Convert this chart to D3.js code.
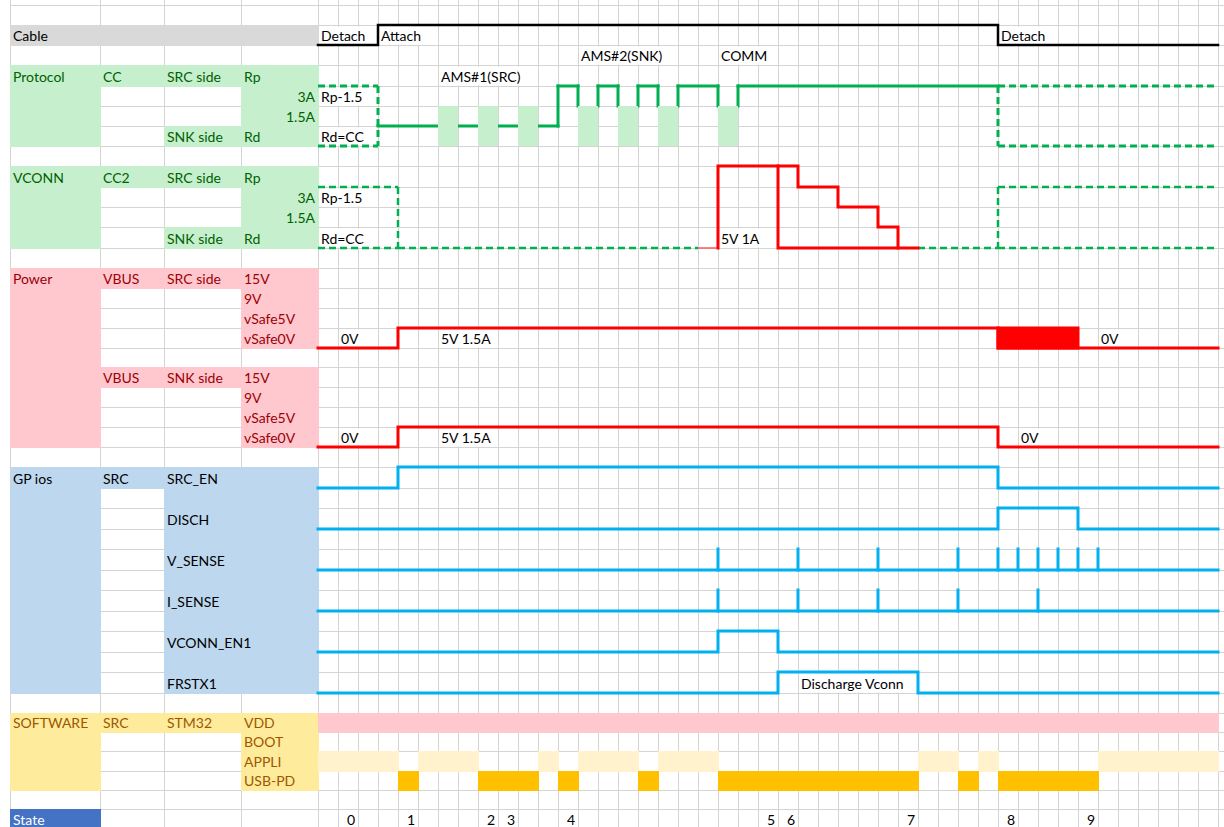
<!DOCTYPE html>
<html>
<head>
<meta charset="utf-8">
<script src="https://cdn.jsdelivr.net/npm/d3@7"></script>
<style>
  body { margin: 0; background: #fff; }
  svg text { font-family: Lato, "Open Sans", sans-serif; font-size: 14px; }
</style>
</head>
<body>
<svg width="1224" height="827"></svg>
<script>
// ---- data ----
// left hand label cells: [row, column, text, align]
var labelCells = [
  [1, 0, "Cable"],
  [3, 0, "Protocol"], [3, 1, "CC"], [3, 2, "SRC side"], [3, 3, "Rp"],
  [4, 3, "3A", "r"], [5, 3, "1.5A", "r"], [6, 2, "SNK side"], [6, 3, "Rd"],
  [8, 0, "VCONN"], [8, 1, "CC2"], [8, 2, "SRC side"], [8, 3, "Rp"],
  [9, 3, "3A", "r"], [10, 3, "1.5A", "r"], [11, 2, "SNK side"], [11, 3, "Rd"],
  [13, 0, "Power"], [13, 1, "VBUS"], [13, 2, "SRC side"], [13, 3, "15V"],
  [14, 3, "9V"], [15, 3, "vSafe5V"], [16, 3, "vSafe0V"],
  [18, 1, "VBUS"], [18, 2, "SNK side"], [18, 3, "15V"],
  [19, 3, "9V"], [20, 3, "vSafe5V"], [21, 3, "vSafe0V"],
  [23, 0, "GP ios"], [23, 1, "SRC"], [23, 2, "SRC_EN"], [25, 2, "DISCH"],
  [27, 2, "V_SENSE"], [29, 2, "I_SENSE"], [31, 2, "VCONN_EN1"], [33, 2, "FRSTX1"],
  [35, 0, "SOFTWARE"], [35, 1, "SRC"], [35, 2, "STM32"], [35, 3, "VDD"],
  [36, 3, "BOOT"], [37, 3, "APPLI"], [38, 3, "USB-PD"],
  [40, 0, "State"]
];

// coloured label blocks: [firstCol, lastCol, firstRow, lastRow, theme]
var labelBlocks = [
  [0, 3, 1, 1, "cable"],
  [0, 0, 3, 6, "green"], [1, 3, 3, 3, "green"], [3, 3, 4, 6, "green"], [2, 2, 6, 6, "green"],
  [0, 0, 8, 11, "green"], [1, 3, 8, 8, "green"], [3, 3, 9, 11, "green"], [2, 2, 11, 11, "green"],
  [0, 0, 13, 21, "red"], [1, 3, 13, 13, "red"], [3, 3, 14, 16, "red"],
  [1, 3, 18, 18, "red"], [3, 3, 19, 21, "red"],
  [0, 0, 23, 33, "blue"], [1, 1, 23, 23, "blue"], [2, 3, 23, 33, "blue"],
  [0, 0, 35, 38, "yellow"], [1, 3, 35, 35, "yellow"], [3, 3, 36, 38, "yellow"],
  [0, 0, 40, 40, "state"]
];

// notes written in the timeline cells: [row, column, text]
var timelineNotes = [
  [1, 0, "Detach"], [1, 3, "Attach"], [1, 34, "Detach"],
  [2, 13, "AMS#2(SNK)"], [2, 20, "COMM"], [3, 6, "AMS#1(SRC)"],
  [4, 0, "Rp-1.5"], [6, 0, "Rd=CC"], [9, 0, "Rp-1.5"], [11, 0, "Rd=CC"], [11, 20, "5V 1A"],
  [16, 1, "0V"], [16, 6, "5V 1.5A"], [16, 39, "0V"],
  [21, 1, "0V"], [21, 6, "5V 1.5A"], [21, 35, "0V"],
  [33, 24, "Discharge Vconn"]
];

// signal runs: [fromCol, toCol, level]
var cableRuns = [[0, 3, 0], [3, 34, 1], [34, 45, 0]];
// Z = open (dashed), L = Rp 1.5A, H = Rp 3A, C = BMC message
var ccRuns = [
  [0, 3, "Z"], [3, 6, "L"], [6, 7, "C"], [7, 8, "L"], [8, 9, "C"], [9, 10, "L"],
  [10, 11, "C"], [11, 12, "L"], [12, 13, "H"], [13, 14, "C"], [14, 15, "H"],
  [15, 16, "C"], [16, 17, "H"], [17, 18, "C"], [18, 20, "H"], [20, 21, "C"],
  [21, 34, "H"], [34, 45, "Z"]
];
var vconnOpen = [[0, 4], [34, 45]];
var vconnIdle = [[4, 19], [30, 34]];
var vconnRamp = [19, 20];
var vconnSupply = [[20, 24, 0], [24, 26, 1], [26, 28, 2], [28, 29, 3]];
var vconnReturn = [23, 30];

var vbusSrcRuns = [[0, 4, "0V"], [4, 34, "5V"], [34, 38, "dis"], [38, 45, "0V"]];
var vbusSnkRuns = [[0, 4, "0V"], [4, 34, "5V"], [34, 45, "0V"]];

var srcEnRuns = [[0, 4, 0], [4, 34, 1], [34, 45, 0]];
var dischRuns = [[0, 34, 0], [34, 38, 1], [38, 45, 0]];
var vconnEnRuns = [[0, 20, 0], [20, 23, 1], [23, 45, 0]];
var frsTxRuns = [[0, 23, 0], [23, 30, 1], [30, 45, 0]];
var vSenseSpikes = [20, 24, 28, 32, 34, 35, 36, 37, 38, 39];
var iSenseSpikes = [20, 24, 28, 32, 36];

var vddRuns = [[0, 45]];
var appliRuns = [[0, 4], [5, 8], [11, 12], [13, 16], [17, 20], [30, 32], [33, 34], [39, 45]];
var usbPdRuns = [[4, 5], [8, 11], [12, 13], [16, 17], [20, 30], [32, 33], [34, 39]];

var stateNames = ["0", "1", "2", "3", "4", "5", "6", "7", "8", "9"];
var stateCols = [1, 4, 8, 9, 12, 22, 23, 29, 34, 38];

// ---- layout ----
var svg = d3.select("svg"),
    W = 1224,
    H = 827,
    nCols = 45;

var x = d3.scaleLinear().domain([0, nCols]).range([318, 1218]);
var rowScale = d3.scaleLinear()
    .domain([0, 7, 13, 22, 23, 34, 35, 40, 41])
    .range([5, 146, 268, 447, 467, 693, 713, 809, 829]);
function y(r) { return Math.round(rowScale(r)); }
var labelEdges = [10, 100, 164, 241, 318];

var theme = {
  cable:  { fill: "#d9d9d9", text: "#000" },
  green:  { fill: "#c6efce", text: "#006100" },
  red:    { fill: "#ffc7ce", text: "#9c0006" },
  blue:   { fill: "#bdd7ee", text: "#000" },
  yellow: { fill: "#ffeb9c", text: "#9c5700" },
  state:  { fill: "#4472c4", text: "#fff" }
};
function rowTheme(r) {
  if (r <= 1) return theme.cable;
  if (r <= 11) return theme.green;
  if (r <= 21) return theme.red;
  if (r <= 33) return theme.blue;
  if (r <= 38) return theme.yellow;
  return theme.state;
}

var gGrid = svg.append("g"),
    gFill = svg.append("g"),
    gBg = svg.append("g"),
    gSig = svg.append("g"),
    gText = svg.append("g");

// gridlines
var vGrid = labelEdges.concat(d3.range(1, nCols + 1).map(x));
gGrid.selectAll(".v").data(vGrid).join("line").attr("class", "v")
    .attr("x1", function(d) { return d + 0.5; })
    .attr("x2", function(d) { return d + 0.5; })
    .attr("y1", 0).attr("y2", H)
    .attr("stroke", "#d4d4d4");
gGrid.selectAll(".h").data(d3.range(0, 42).map(y)).join("line").attr("class", "h")
    .attr("x1", 10).attr("x2", W)
    .attr("y1", function(d) { return d + 0.5; })
    .attr("y2", function(d) { return d + 0.5; })
    .attr("stroke", "#d4d4d4");

// label blocks
gFill.selectAll(".blk").data(labelBlocks).join("rect").attr("class", "blk")
    .attr("x", function(d) { return labelEdges[d[0]]; })
    .attr("width", function(d) { return labelEdges[d[1] + 1] - labelEdges[d[0]] + 1; })
    .attr("y", function(d) { return y(d[2]); })
    .attr("height", function(d) { return y(d[3] + 1) - y(d[2]) + 1; })
    .attr("fill", function(d) { return theme[d[4]].fill; });

// software rows
function rowFill(runs, row, color) {
  gFill.append("g").selectAll("rect").data(runs).join("rect")
      .attr("x", function(d) { return x(d[0]); })
      .attr("width", function(d) { return x(d[1]) - x(d[0]) + 1; })
      .attr("y", y(row))
      .attr("height", y(row + 1) - y(row) + 1)
      .attr("fill", color);
}
rowFill(vddRuns, 35, "#ffc7ce");
rowFill(appliRuns, 37, "#fff2cc");
rowFill(usbPdRuns, 38, "#ffc000");

// label text
gText.selectAll(".lbl").data(labelCells).join("text").attr("class", "lbl")
    .attr("x", function(d) { return d[3] === "r" ? labelEdges[d[1] + 1] - 3 : labelEdges[d[1]] + 3; })
    .attr("y", function(d) { return y(d[0] + 1) - 4; })
    .attr("text-anchor", function(d) { return d[3] === "r" ? "end" : "start"; })
    .attr("fill", function(d) { return rowTheme(d[0]).text; })
    .text(function(d) { return d[2]; });

// timeline notes, hiding gridlines where the text overflows
gText.selectAll(".note").data(timelineNotes).join("text").attr("class", "note")
    .attr("x", function(d) { return x(d[1]) + 3; })
    .attr("y", function(d) { return y(d[0] + 1) - 4; })
    .attr("fill", "#000")
    .text(function(d) { return d[2]; })
    .each(function(d) {
      var n = Math.ceil((this.getComputedTextLength() + 3) / 20);
      if (n > 1) {
        gBg.append("rect")
            .attr("x", x(d[1]) + 1.5).attr("width", x(d[1] + n) - x(d[1]) - 2)
            .attr("y", y(d[0]) + 1.5).attr("height", y(d[0] + 1) - y(d[0]) - 2)
            .attr("fill", "#fff");
      }
    });

// state numbers
gText.selectAll(".st").data(stateCols).join("text").attr("class", "st")
    .attr("x", function(d) { return x(d + 1) - 3; })
    .attr("y", y(41) - 4)
    .attr("text-anchor", "end")
    .attr("fill", "#000")
    .text(function(d, i) { return stateNames[i]; });

// ---- signals ----
var stepLine = d3.line().curve(d3.curveStepAfter);
function stepPoints(runs, lvl) {
  var pts = runs.map(function(r) { return [x(r[0]), lvl(r[2])]; });
  var last = runs[runs.length - 1];
  pts.push([x(last[1]), lvl(last[2])]);
  return pts;
}
function drawStep(runs, lvl, color, w) {
  gSig.append("path")
      .attr("d", stepLine(stepPoints(runs, lvl)))
      .attr("fill", "none").attr("stroke", color)
      .attr("stroke-width", w).attr("stroke-linecap", "square");
}
function drawSegs(segs, color, w) {
  gSig.append("g").selectAll("line").data(segs).join("line")
      .attr("x1", function(d) { return d.x1; }).attr("y1", function(d) { return d.y1; })
      .attr("x2", function(d) { return d.x2; }).attr("y2", function(d) { return d.y2; })
      .attr("stroke", color).attr("stroke-width", w)
      .attr("stroke-dasharray", function(d) { return d.dash ? "7,4" : null; })
      .attr("stroke-linecap", function(d) { return d.dash ? "butt" : "square"; });
}

// cable
drawStep(cableRuns, function(v) { return v ? y(1) : y(2); }, "#000", 2.5);

// CC line
var green = "#00b050";
var ccTop = y(4), ccMid = y(5), ccLow = y(6), ccBot = y(7);
var ccLevel = { H: ccTop, L: ccLow };
var ccSegs = [], ccCells = [];
ccRuns.forEach(function(r, i) {
  var a = x(r[0]), b = x(r[1]), s = r[2];
  if (s === "Z") {
    ccSegs.push({ x1: a, y1: ccTop, x2: b, y2: ccTop, dash: true },
                { x1: a, y1: ccBot, x2: b, y2: ccBot, dash: true });
  } else if (s === "C") {
    ccCells.push(r);
  } else {
    ccSegs.push({ x1: a, y1: ccLevel[s], x2: b, y2: ccLevel[s] });
  }
  var next = ccRuns[i + 1];
  if (!next) return;
  var pair = s + next[2];
  if (s === "Z" || next[2] === "Z") ccSegs.push({ x1: b, y1: ccTop, x2: b, y2: ccBot, dash: true });
  else if (pair === "HL" || pair === "LH") ccSegs.push({ x1: b, y1: ccTop, x2: b, y2: ccLow });
  else if (pair === "HC" || pair === "CH") ccSegs.push({ x1: b, y1: ccTop, x2: b, y2: ccMid });
});
drawSegs(ccSegs, green, 3);
gSig.append("g").selectAll("rect").data(ccCells).join("rect")
    .attr("x", function(d) { return x(d[0]); })
    .attr("width", function(d) { return x(d[1]) - x(d[0]); })
    .attr("y", ccMid).attr("height", ccBot - ccMid)
    .attr("fill", "#c6efce");

// VCONN (CC2)
var vTop = y(9), vBot = y(12);
var vSegs = [];
vconnOpen.forEach(function(r) {
  vSegs.push({ x1: x(r[0]), y1: vTop, x2: x(r[1]), y2: vTop, dash: true },
             { x1: x(r[0]), y1: vBot, x2: x(r[1]), y2: vBot, dash: true });
  if (r[0] > 0) vSegs.push({ x1: x(r[0]), y1: vTop, x2: x(r[0]), y2: vBot, dash: true });
  if (r[1] < nCols) vSegs.push({ x1: x(r[1]), y1: vTop, x2: x(r[1]), y2: vBot, dash: true });
});
vconnIdle.forEach(function(r) {
  vSegs.push({ x1: x(r[0]), y1: vBot, x2: x(r[1]), y2: vBot, dash: true });
});
drawSegs(vSegs, green, 2.5);

gSig.append("line")
    .attr("x1", x(vconnRamp[0])).attr("x2", x(vconnRamp[1]))
    .attr("y1", vBot).attr("y2", vBot)
    .attr("stroke", "#ff5a5a").attr("stroke-width", 1.5);

var supplyPts = [[x(vconnSupply[0][0]), vBot]].concat(
    stepPoints(vconnSupply, function(k) { return y(8 + k); }));
supplyPts[supplyPts.length - 1][1] = vBot;
gSig.append("path")
    .attr("d", stepLine(supplyPts))
    .attr("fill", "none").attr("stroke", "#ff0000")
    .attr("stroke-width", 3).attr("stroke-linecap", "square");
gSig.append("path")
    .attr("d", d3.line()([[x(vconnReturn[0]), y(8)], [x(vconnReturn[0]), vBot], [x(vconnReturn[1]), vBot]]))
    .attr("fill", "none").attr("stroke", "#ff0000")
    .attr("stroke-width", 3).attr("stroke-linecap", "square");

// VBUS
drawStep(vbusSrcRuns, function(v) { return v === "5V" ? y(16) : y(17); }, "#ff0000", 3);
gSig.append("g").selectAll("rect").data(vbusSrcRuns.filter(function(r) { return r[2] === "dis"; }))
    .join("rect")
    .attr("x", function(d) { return x(d[0]) - 1.5; })
    .attr("width", function(d) { return x(d[1]) - x(d[0]) + 3; })
    .attr("y", y(16) - 1.5).attr("height", y(17) - y(16) + 3)
    .attr("fill", "#ff0000");
drawStep(vbusSnkRuns, function(v) { return v === "5V" ? y(21) : y(22); }, "#ff0000", 3);

// GPIOs
var blue = "#00b0f0";
[[srcEnRuns, 23], [dischRuns, 25], [vconnEnRuns, 31], [frsTxRuns, 33]].forEach(function(s) {
  drawStep(s[0], function(v) { return v ? y(s[1]) : y(s[1] + 1); }, blue, 3);
});
[[vSenseSpikes, 27], [iSenseSpikes, 29]].forEach(function(s) {
  var row = s[1];
  var segs = [{ x1: x(0), y1: y(row + 1), x2: x(nCols), y2: y(row + 1) }];
  s[0].forEach(function(c) {
    segs.push({ x1: x(c), y1: y(row), x2: x(c), y2: y(row + 1) });
  });
  drawSegs(segs, blue, 3);
});

// keep notes above the signals
gText.raise();
</script>
</body>
</html>
